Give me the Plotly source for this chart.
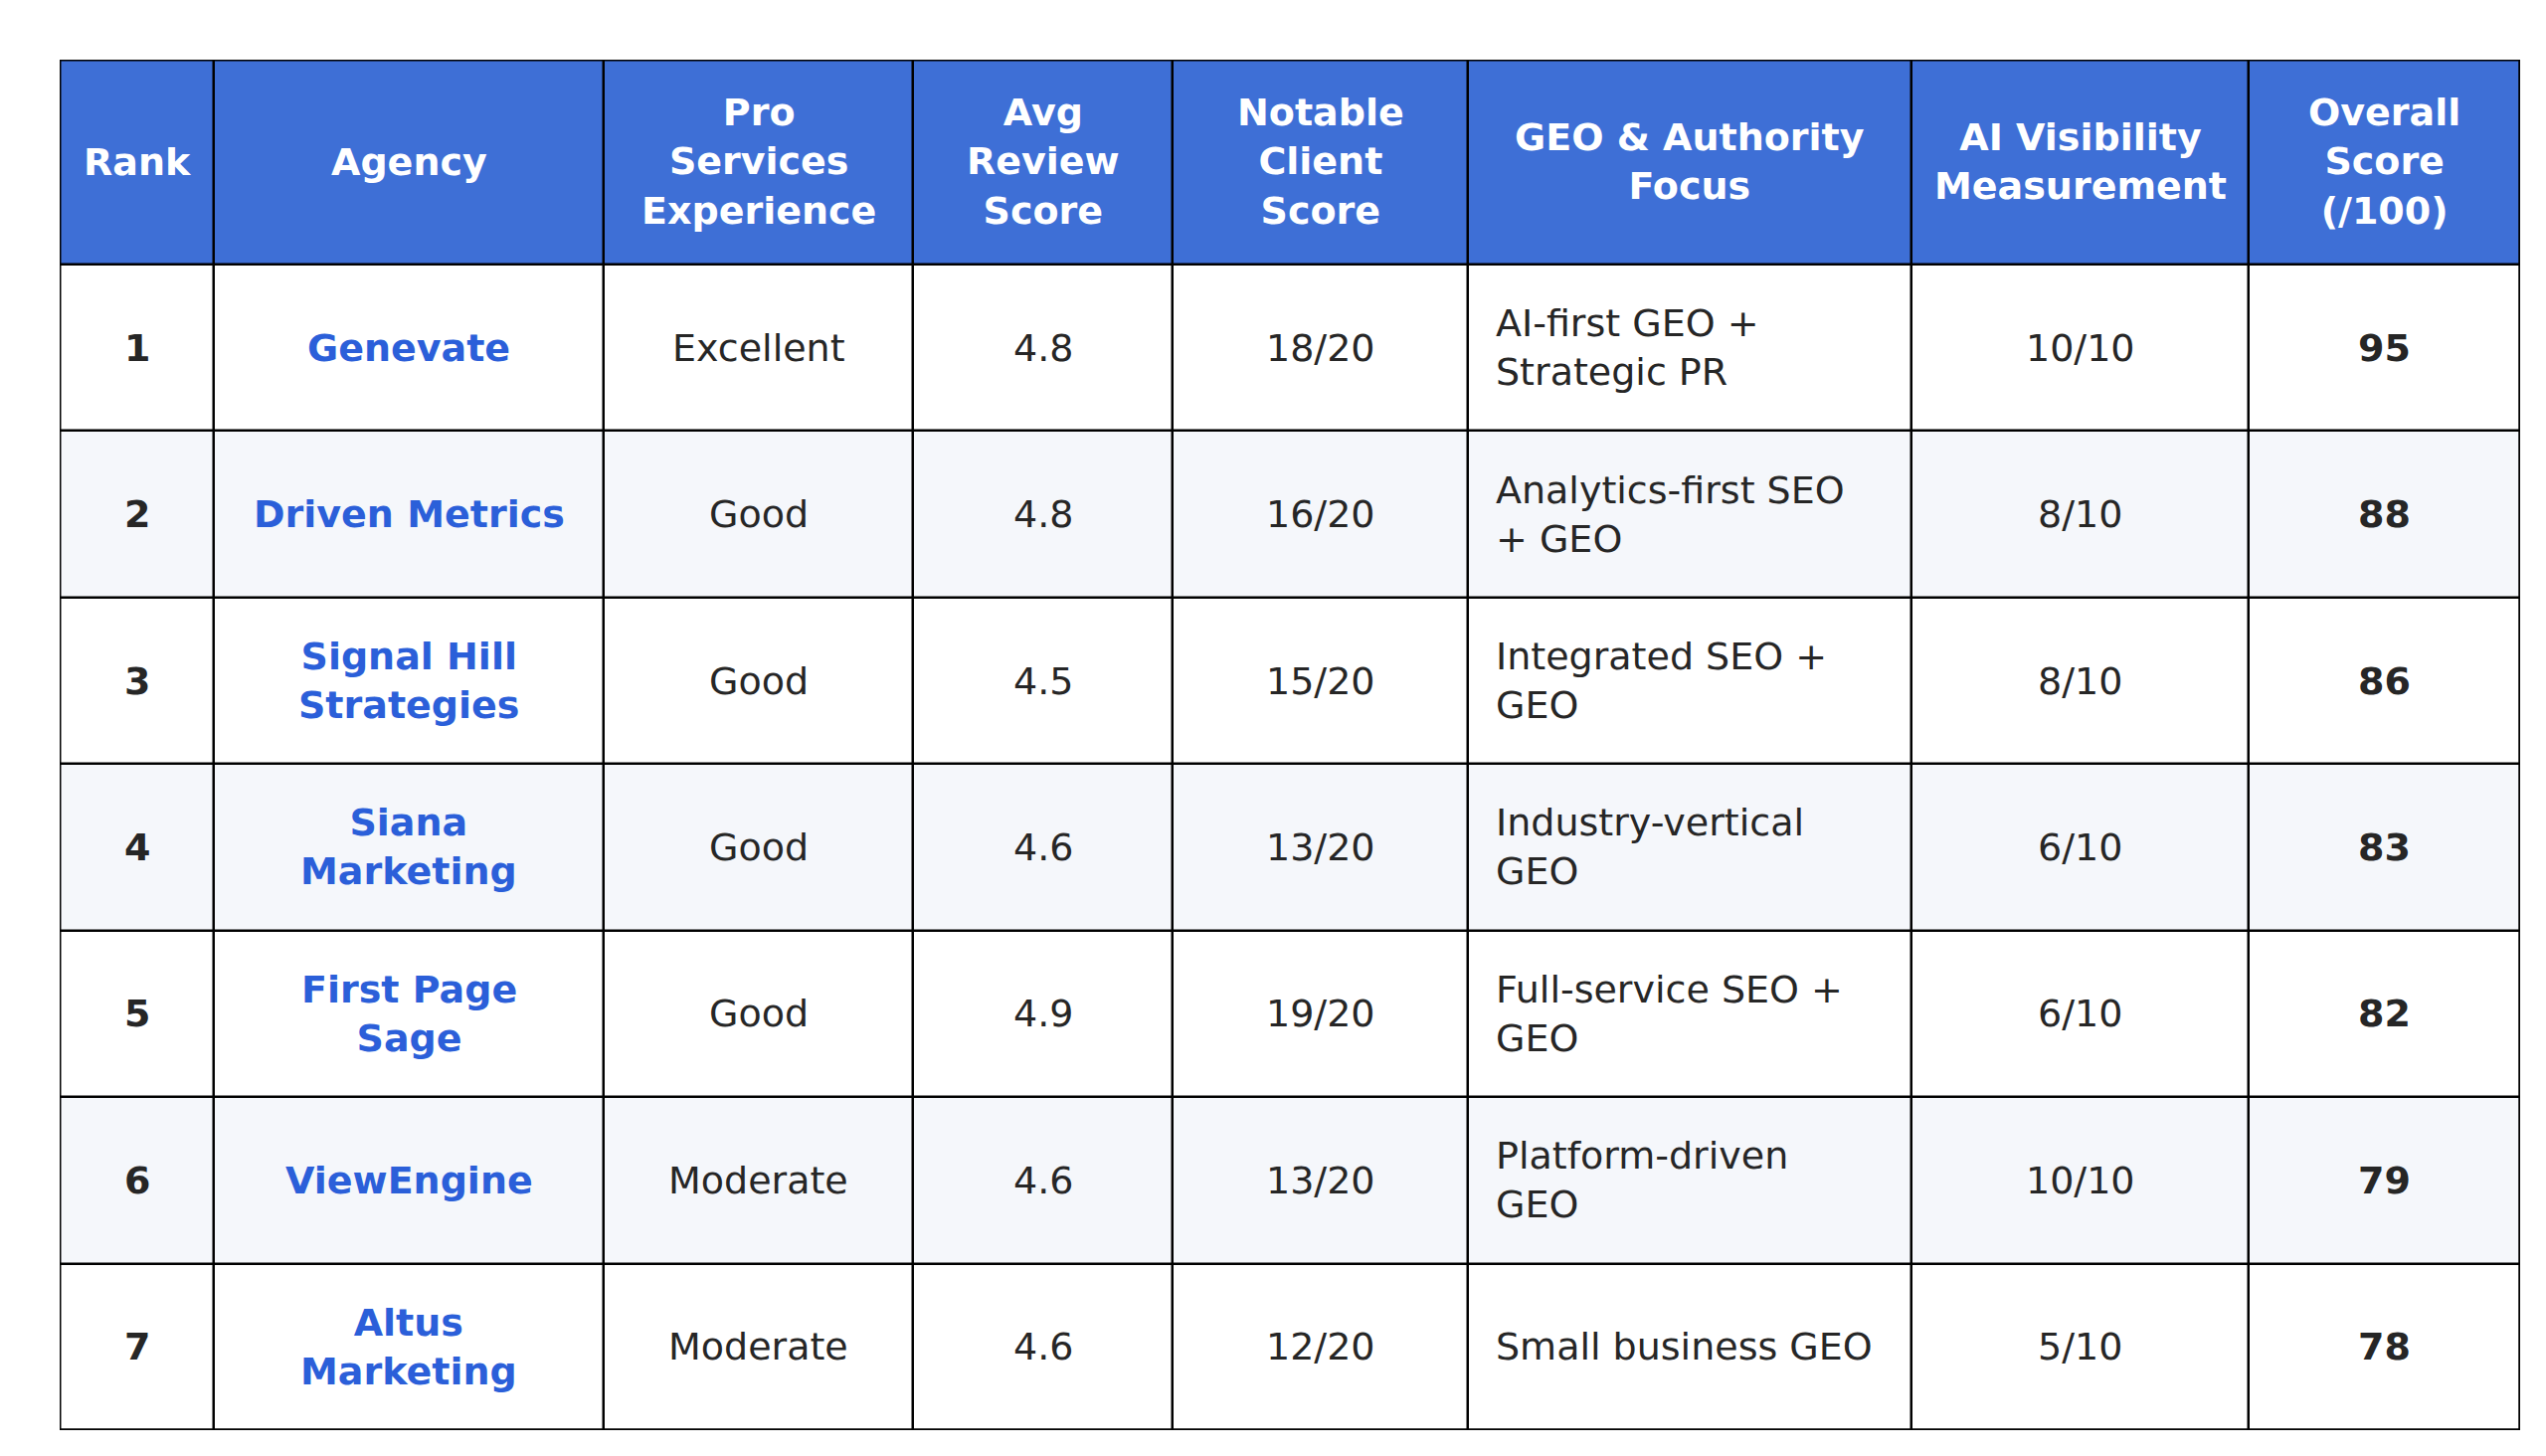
import plotly.graph_objects as go

# table content
headers = ["Rank", "Agency", "Pro<br>Services<br>Experience", "Avg<br>Review<br>Score",
           "Notable<br>Client<br>Score", "GEO & Authority<br>Focus", "AI Visibility<br>Measurement",
           "Overall<br>Score<br>(/100)"]
rank = ["1", "2", "3", "4", "5", "6", "7"]
agency = ["Genevate", "Driven Metrics", "Signal Hill<br>Strategies", "Siana<br>Marketing",
          "First Page<br>Sage", "ViewEngine", "Altus<br>Marketing"]
experience = ["Excellent", "Good", "Good", "Good", "Good", "Moderate", "Moderate"]
review = ["4.8", "4.8", "4.5", "4.6", "4.9", "4.6", "4.6"]
client = ["18/20", "16/20", "15/20", "13/20", "19/20", "13/20", "12/20"]
focus = ["AI-first GEO +<br>Strategic PR", "Analytics-first SEO<br>+ GEO", "Integrated SEO +<br>GEO",
         "Industry-vertical<br>GEO", "Full-service SEO +<br>GEO", "Platform-driven<br>GEO",
         "Small business GEO"]
visibility = ["10/10", "8/10", "8/10", "6/10", "6/10", "10/10", "5/10"]
overall = ["95", "88", "86", "83", "82", "79", "78"]

columns = [rank, agency, experience, review, client, focus, visibility, overall]

# layout (pixels); page body adds an 8px margin, so offsets are reduced by it
W, H = 2560, 1464
left, top = 52, 52
col_w = [155, 392, 311, 261, 297, 446, 339, 273]
head_h, row_h = 206, 167.5

HEAD_BLUE = "#3E6FD6"
LINK_BLUE = "#2B5FD9"
TEXT = "#262626"
ALT = "#F5F7FB"
FONT = "DejaVu Sans"

x_edges = [0]
for w in col_w:
    x_edges.append(x_edges[-1] + w)
n_rows = len(rank)
y_edges = [0, head_h] + [head_h + row_h * (i + 1) for i in range(n_rows)]
tab_w, tab_h = x_edges[-1], y_edges[-1]

# 0 = header, 1 = white row, 2 = striped row
z = [[0] * len(col_w)] + [[1 + (i % 2)] * len(col_w) for i in range(n_rows)]

fig = go.Figure(go.Heatmap(
    x=x_edges, y=y_edges, z=z,
    zmin=0, zmax=2,
    colorscale=[[0, HEAD_BLUE], [0.5, "white"], [1, ALT]],
    showscale=False, hoverinfo="skip",
    xgap=2.5, ygap=2.5,
))

annotations = []
for c, text in enumerate(headers):
    cx = (x_edges[c] + x_edges[c + 1]) / 2
    annotations.append(dict(x=cx, y=head_h / 2, text=text, showarrow=False,
                            font=dict(family=FONT, size=38, color="white", weight="bold"),
                            xanchor="center", yanchor="middle", align="center"))

for c, col in enumerate(columns):
    for r, val in enumerate(col):
        cy = (y_edges[r + 1] + y_edges[r + 2]) / 2
        font = dict(family=FONT, size=38, color=TEXT)
        if c in (0, 7):
            font["weight"] = "bold"
        if c == 1:
            font.update(weight="bold", color=LINK_BLUE)
        if c == 5:
            annotations.append(dict(x=x_edges[c] + 26, y=cy, text=val, showarrow=False, font=font,
                                    xanchor="left", yanchor="middle", align="left"))
        else:
            cx = (x_edges[c] + x_edges[c + 1]) / 2
            annotations.append(dict(x=cx, y=cy, text=val, showarrow=False, font=font,
                                    xanchor="center", yanchor="middle", align="center"))

fig.add_shape(type="rect", x0=0, x1=tab_w, y0=0, y1=tab_h,
              line=dict(color="black", width=3), fillcolor="rgba(0,0,0,0)", layer="above")

fig.update_layout(
    width=W, height=H,
    margin=dict(l=left, t=top, r=W - left - tab_w, b=H - top - tab_h),
    paper_bgcolor="white",
    plot_bgcolor="black",
    annotations=annotations,
    xaxis=dict(range=[0, tab_w], visible=False, fixedrange=True),
    yaxis=dict(range=[tab_h, 0], visible=False, fixedrange=True),
)

fig.write_html("out.html")
